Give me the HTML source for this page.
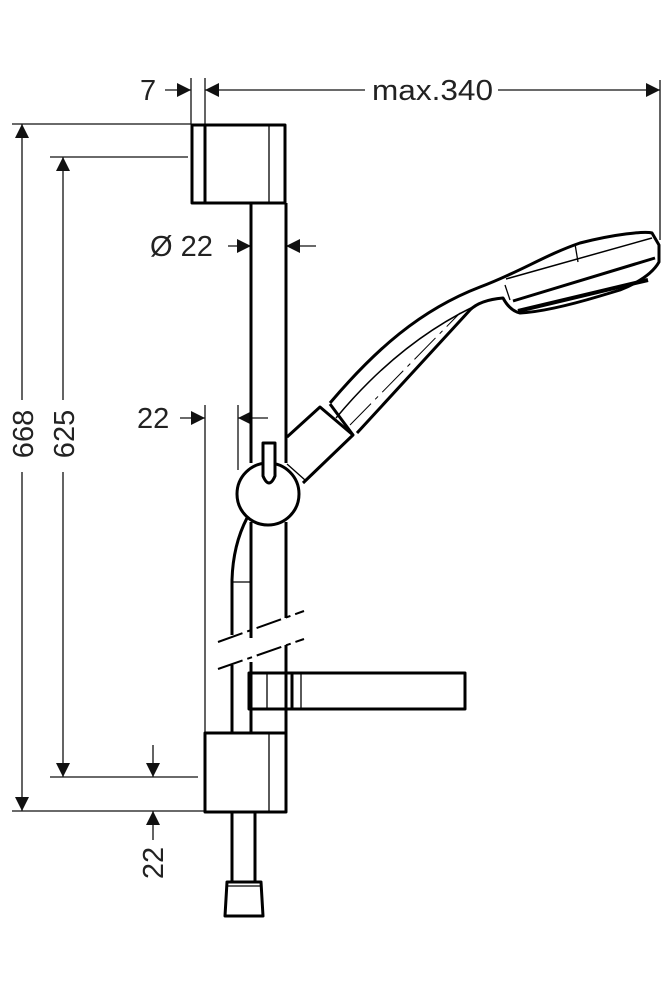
<!DOCTYPE html>
<html><head><style>html,body{margin:0;padding:0;background:#fff}svg{display:block}</style></head>
<body>
<svg width="669" height="1000" viewBox="0 0 669 1000" xmlns="http://www.w3.org/2000/svg">
<defs>
<marker id="a" viewBox="0 0 10 10" refX="10" refY="5" markerWidth="14" markerHeight="14" markerUnits="userSpaceOnUse" orient="auto"><path d="M0,0 L10,5 L0,10 z" fill="#111"/></marker>
</defs>
<g fill="none" stroke="#111" stroke-width="1.3">
<line x1="12" y1="124" x2="191" y2="124"/>
<line x1="50" y1="157" x2="188" y2="157"/>
<line x1="50" y1="777" x2="198" y2="777"/>
<line x1="12" y1="811" x2="205" y2="811"/>
<line x1="191" y1="78" x2="191" y2="124"/>
<line x1="205" y1="78" x2="205" y2="124"/>
<line x1="660" y1="80" x2="660" y2="240"/>
<line x1="205" y1="405" x2="205" y2="733"/>
<line x1="238" y1="405" x2="238" y2="470"/>
<line x1="22" y1="400" x2="22" y2="124" marker-end="url(#a)"/>
<line x1="22" y1="472" x2="22" y2="811" marker-end="url(#a)"/>
<line x1="63" y1="400" x2="63" y2="157" marker-end="url(#a)"/>
<line x1="63" y1="472" x2="63" y2="777" marker-end="url(#a)"/>
<line x1="165" y1="90" x2="191" y2="90" marker-end="url(#a)"/>
<line x1="365" y1="90" x2="205" y2="90" marker-end="url(#a)"/>
<line x1="498" y1="90" x2="660" y2="90" marker-end="url(#a)"/>
<line x1="228" y1="246" x2="251" y2="246" marker-end="url(#a)"/>
<line x1="316" y1="246" x2="286" y2="246" marker-end="url(#a)"/>
<line x1="180" y1="418" x2="205" y2="418" marker-end="url(#a)"/>
<line x1="268" y1="418" x2="238" y2="418" marker-end="url(#a)"/>
<line x1="153" y1="745" x2="153" y2="777" marker-end="url(#a)"/>
<line x1="153" y1="840" x2="153" y2="811" marker-end="url(#a)"/>
</g>
<g font-family="Liberation Sans, sans-serif" font-size="29" fill="#222">
<text x="140" y="100">7</text>
<text x="372" y="100" textLength="121" lengthAdjust="spacingAndGlyphs">max.340</text>
<text x="150" y="256">Ø 22</text>
<text x="137" y="428">22</text>
<text transform="translate(33,434) rotate(-90)" text-anchor="middle">668</text>
<text transform="translate(74,434) rotate(-90)" text-anchor="middle">625</text>
<text transform="translate(163,863) rotate(-90)" text-anchor="middle">22</text>
</g>
<g fill="none" stroke="#000" stroke-width="3" stroke-linejoin="round">
<rect x="192" y="125" width="93" height="78"/>
<line x1="205" y1="125" x2="205" y2="203"/>
<line x1="269" y1="125" x2="269" y2="203" stroke-width="1.3"/>
<line x1="251" y1="203" x2="251" y2="463"/>
<line x1="286" y1="203" x2="286" y2="463"/>
<line x1="251" y1="522" x2="251" y2="638"/>
<line x1="286" y1="522" x2="286" y2="618"/>
<line x1="251" y1="662" x2="251" y2="733"/>
<line x1="286" y1="645" x2="286" y2="733"/>
<path d="M247,518 Q233,545 232,580 L232,635"/>
<line x1="232" y1="665" x2="232" y2="733"/>
<line x1="233" y1="582" x2="250" y2="582" stroke-width="1.3"/>
<path d="M218,642 L304,611" stroke-width="2" stroke-dasharray="26,5,5,5"/>
<path d="M218,669 L304,639" stroke-width="2" stroke-dasharray="26,5,5,5"/>
<rect x="249" y="673" width="216" height="36"/>
<line x1="267" y1="673" x2="267" y2="709" stroke-width="1.3"/>
<line x1="292" y1="673" x2="292" y2="709"/>
<line x1="301" y1="673" x2="301" y2="709" stroke-width="1.3"/>
<rect x="205" y="733" width="81" height="79"/>
<line x1="269" y1="733" x2="269" y2="812" stroke-width="1.3"/>
<line x1="232" y1="812" x2="232" y2="882"/>
<line x1="255" y1="812" x2="255" y2="882"/>
<path d="M227,882 L261,882 L263,916 L225,916 Z"/>
<line x1="227" y1="886" x2="261" y2="886" stroke-width="1.3"/>
<path d="M287,437 L320,407 L353,435 L303,483"/>
<line x1="287" y1="464" x2="305" y2="480" stroke-width="1.3"/>
<path d="M330,404 L353,435"/>
<path d="M330,403 C375,350 420,310 480,287 C520,272 545,255 580,243 C615,234 645,231 652,233 L659,245 L659,262 Q650,278 620,290 L600,296 C570,305 540,312 520,313 Q510,311 503,298 Q480,300 470,310 L357,433"/>
<path d="M506,279 L652,238" stroke-width="1.5"/>
<path d="M513,301 L655,258"/>
<path d="M518,311 L648,280" stroke-width="4"/>
<line x1="575" y1="244" x2="578" y2="262" stroke-width="1.3"/>
<line x1="505" y1="285" x2="510" y2="300" stroke-width="1.3"/>
<path d="M336,418 C380,365 430,325 488,300" stroke-width="1.5"/>
<path d="M350,425 L460,313" stroke-width="1" stroke-dasharray="30,6,4,6"/>
<circle cx="268" cy="494" r="31" fill="#fff"/>
<path d="M263,443 L275,443 L275,476 Q269,490 263,476 Z" fill="#fff"/>
</g>
</svg>
</body></html>
